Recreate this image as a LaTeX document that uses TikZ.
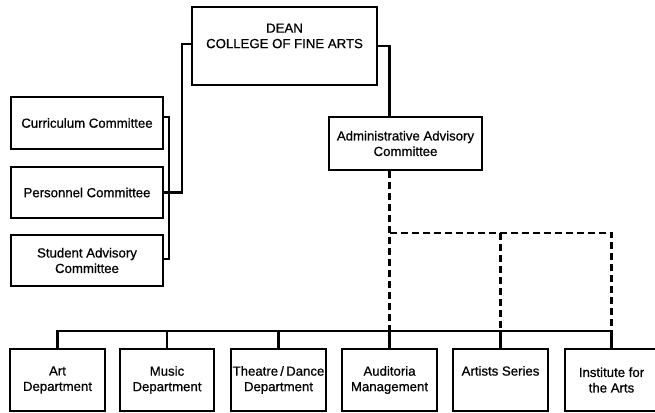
\documentclass[tikz,border=0pt]{standalone}
\usepackage{fontspec}
\setmainfont{Liberation Sans}
\newfontfamily\chartfont[FakeBold=0.7]{Liberation Sans}
\usetikzlibrary{calc}
\begin{document}
\begin{tikzpicture}[x=1pt,y=-1pt,
  every node/.style={font=\chartfont\fontsize{13.2}{15.5}\selectfont, align=center, inner sep=0pt},
  box/.style={draw, line width=2.2pt, rectangle},
  link/.style={line width=2.2pt},
  dotted link/.style={line width=2.2pt, dash pattern=on 7pt off 4pt}]
\useasboundingbox (0,0) rectangle (655,412);
\fill[white] (0,0) rectangle (655,412);

% boxes given by their corners (left, top) and (right, bottom)
\newcommand{\orgbox}[6]{%
  \node[box, minimum width={#4-#2}, minimum height={#5-#3}] (#1) at ({(#2+#4)/2},{(#3+#5)/2}) {#6};}

\orgbox{dean}{192}{7}{377}{85}{}
\node (deantext) at ($(dean.north)+(0,30)$) {DEAN\\COLLEGE OF FINE ARTS};

\orgbox{curr}{11}{97}{163}{149}{Curriculum Committee}
\orgbox{pers}{11}{167}{163}{218}{Personnel Committee}
\orgbox{stud}{11}{235}{163}{286}{Student Advisory\\Committee}
\orgbox{admin}{329}{117}{482}{170}{Administrative Advisory\\Committee}

\orgbox{art}{10}{349}{105}{411}{Art\\Department}
\orgbox{music}{120}{349}{214}{411}{Music\\Department}
\orgbox{theatre}{231}{349}{326}{411}{Theatre\,/\,Dance\\Department}
\orgbox{audit}{342}{349}{437}{411}{Auditoria\\Management}
\orgbox{artists}{453}{349}{548}{411}{}
\node (artiststext) at ($(artists.north)+(0,23)$) {Artists Series};
\orgbox{inst}{565}{349}{658}{411}{Institute for\\the Arts}

% levels of the connector runs
\coordinate (bus) at (0,331);
\coordinate (dtop) at (0,233);

% committees to the dean
\draw[link] ([yshift=6pt]curr.east) -- ++(5,0) |- ([yshift=1.5pt]stud.east);
\draw[link] (pers.east) -- ++(18,0) |- ([yshift=2pt]dean.west);

% dean to the administrative advisory committee
\draw[link] (dean.east) -| (audit.north |- admin.north);

% departments on the common bus
\draw[link] (art.north) -- (art.north |- bus) -- (inst.north |- bus) -- (inst.north);
\draw[link] (music.north) -- (music.north |- bus);
\draw[link] (theatre.north) -- (theatre.north |- bus);
\draw[link] (audit.north) -- (audit.north |- bus);
\draw[link] (artists.north) -- (artists.north |- bus);

% advisory lines
\draw[dotted link] (audit.north |- admin.south) -- (audit.north |- bus);
\draw[dotted link] (audit.north |- dtop) -- (inst.north |- dtop) -- (inst.north |- bus);
\draw[dotted link] (artists.north |- dtop) -- (artists.north |- bus);
\end{tikzpicture}
\end{document}
